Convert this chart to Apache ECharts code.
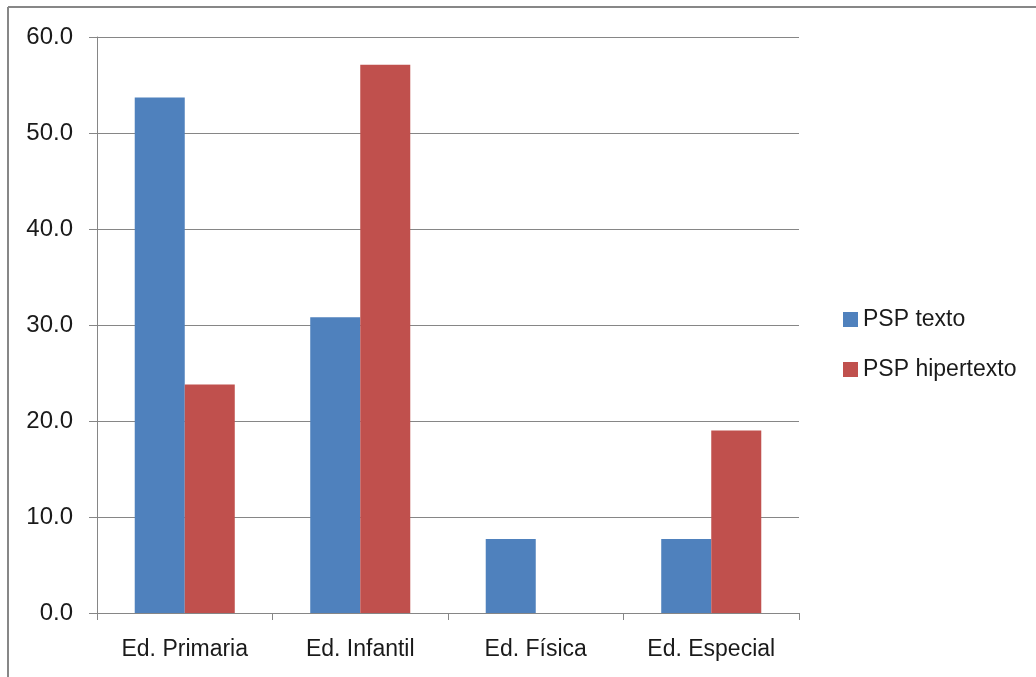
<!DOCTYPE html>
<html>
<head>
<meta charset="utf-8">
<style>
  html, body { margin: 0; padding: 0; background: #ffffff; }
  #chart { width: 1036px; height: 677px; }
</style>
<script src="https://cdn.jsdelivr.net/npm/echarts@6/dist/echarts.min.js"></script>
</head>
<body>
<div id="chart"></div>
<script>
// Categories and the two series
const categories = ['Ed. Primaria', 'Ed. Infantil', 'Ed. Física', 'Ed. Especial'];
const pspTexto = [53.7, 30.8, 7.7, 7.7];
const pspHipertexto = [23.8, 57.1, 0, 19.0];
const seriesNames = ['PSP texto', 'PSP hipertexto'];

const chart = echarts.init(document.getElementById('chart'), null, { renderer: 'canvas' });
const fontFamily = '"Liberation Sans", Arial, sans-serif';
const axisGray = '#868686';

chart.setOption({
  animation: false,
  backgroundColor: '#ffffff',
  textStyle: { fontFamily: fontFamily },
  grid: { left: 97, right: 237, top: 37, bottom: 64, containLabel: false },
  legend: {
    orient: 'vertical',
    left: 843,
    top: 308,
    padding: 0,
    itemWidth: 15,
    itemHeight: 15,
    itemGap: 27,
    icon: 'rect',
    textStyle: { fontSize: 23, color: '#1a1a1a', fontFamily: fontFamily, lineHeight: 23 },
    data: seriesNames
  },
  xAxis: {
    type: 'category',
    data: categories,
    axisLine: { lineStyle: { color: axisGray, width: 1 } },
    axisTick: { show: true, length: 7, alignWithLabel: false, lineStyle: { color: axisGray } },
    axisLabel: { fontSize: 23, color: '#1a1a1a', margin: 25, fontFamily: fontFamily },
    splitLine: { show: false }
  },
  yAxis: {
    type: 'value',
    min: 0,
    max: 60,
    interval: 10,
    axisLine: { show: true, lineStyle: { color: axisGray, width: 1 } },
    axisTick: { show: true, length: 8, lineStyle: { color: axisGray } },
    axisLabel: {
      fontSize: 24,
      color: '#1a1a1a',
      margin: 24,
      fontFamily: fontFamily,
      formatter: function (v) { return v.toFixed(1); }
    },
    splitLine: { show: true, lineStyle: { color: axisGray, width: 1 } }
  },
  series: [
    {
      name: seriesNames[0],
      type: 'bar',
      data: pspTexto,
      barGap: '0%',
      barCategoryGap: '43%',
      itemStyle: { color: '#4F81BD' }
    },
    {
      name: seriesNames[1],
      type: 'bar',
      data: pspHipertexto,
      barGap: '0%',
      barCategoryGap: '43%',
      itemStyle: { color: '#C0504D' }
    }
  ],
  graphic: [
    // outer frame: top and left edges
    { type: 'line', shape: { x1: 8, y1: 7, x2: 1036, y2: 7 }, style: { stroke: '#878787', lineWidth: 2 } },
    { type: 'line', shape: { x1: 8, y1: 7, x2: 8, y2: 677 }, style: { stroke: '#878787', lineWidth: 2 } }
  ]
});
</script>
</body>
</html>
